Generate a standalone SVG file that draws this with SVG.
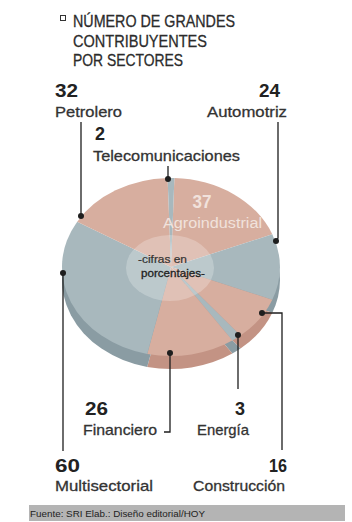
<svg xmlns="http://www.w3.org/2000/svg" width="352" height="522" viewBox="0 0 352 522">
<style>
text{font-family:"Liberation Sans","Open Sans",sans-serif;fill:#2b2b2b}
.t{font-size:17px;stroke:#2b2b2b;stroke-width:0.3}
.n{font-size:18px;font-weight:bold;fill:#222}
.l{font-size:15px;fill:#333;stroke:#333;stroke-width:0.3}
.pk{fill:#d7ae9f}
.bl{fill:#a8b8bd}
.dpk{fill:#c39384}
.dbl{fill:#8a9ca3}
.ln{stroke:#1e1e1e;stroke-width:1.3;fill:none}
.dot{fill:#1e1e1e}
</style>
<rect width="352" height="522" fill="#fff"/>
<g id="title">
<rect x="60.5" y="15.5" width="5" height="5" fill="none" stroke="#333" stroke-width="1"/>
<text class="t" x="73" y="27" textLength="162" lengthAdjust="spacingAndGlyphs">NÚMERO DE GRANDES</text>
<text class="t" x="73" y="47" textLength="134" lengthAdjust="spacingAndGlyphs">CONTRIBUYENTES</text>
<text class="t" x="73" y="66" textLength="110" lengthAdjust="spacingAndGlyphs">POR SECTORES</text>
</g>
<g id="pie">
<g id="rim" transform="translate(0,13)">
<path class="dbl" d="M171,267 L272.3,234.2 A109,89 0 0 1 272.3,299.8 Z"/>
<path class="dpk" d="M171,267 L272.3,299.8 A109,89 0 0 1 240.5,335.6 Z"/>
<path class="dbl" d="M171,267 L240.5,335.6 A109,89 0 0 1 232.3,340.6 Z"/>
<path class="dpk" d="M171,267 L232.3,340.6 A109,89 0 0 1 147.2,353.9 Z"/>
<path class="dbl" d="M171,267 L147.2,353.9 A109,89 0 0 1 77.2,221.7 Z"/>
</g>
<g id="agroindustrial">
<path class="pk" d="M171,267 L174.4,178 A109,89 0 0 1 272.3,234.2 Z"/>
</g>
<g id="automotriz">
<path class="bl" d="M171,267 L272.3,234.2 A109,89 0 0 1 272.3,299.8 Z"/>
</g>
<g id="construccion">
<path class="pk" d="M171,267 L272.3,299.8 A109,89 0 0 1 240.5,335.6 Z"/>
</g>
<g id="energia">
<path class="bl" d="M171,267 L240.5,335.6 A109,89 0 0 1 232.3,340.6 Z"/>
</g>
<g id="financiero">
<path class="pk" d="M171,267 L232.3,340.6 A109,89 0 0 1 147.2,353.9 Z"/>
</g>
<g id="multisectorial">
<path class="bl" d="M171,267 L147.2,353.9 A109,89 0 0 1 77.2,221.7 Z"/>
</g>
<g id="petrolero">
<path class="pk" d="M171,267 L77.2,221.7 A109,89 0 0 1 167.6,178 Z"/>
</g>
<g id="telecomunicaciones">
<path class="bl" d="M171,267 L167.6,178 A109,89 0 0 1 174.4,178 Z"/>
</g>
<ellipse cx="170" cy="268" rx="44" ry="33" fill="#fff" fill-opacity="0.24"/>
<text x="202" y="208" text-anchor="middle" style="font-size:18px;font-weight:bold;fill:#f1e2dc" textLength="19" lengthAdjust="spacingAndGlyphs">37</text>
<text x="163" y="228" style="font-size:14px;fill:#f1e2dc" textLength="99" lengthAdjust="spacingAndGlyphs">Agroindustrial</text>
<text x="138" y="263" style="font-size:11px;fill:#333;stroke:#333;stroke-width:0.2" textLength="49" lengthAdjust="spacingAndGlyphs">-cifras en</text>
<text x="141" y="277" style="font-size:11px;fill:#222;stroke:#222;stroke-width:0.3" textLength="64" lengthAdjust="spacingAndGlyphs">porcentajes-</text>
</g>
<g id="connectors">
<polyline class="ln" points="81,122 81,216"/>
<circle class="dot" cx="81" cy="216" r="3"/>
<polyline class="ln" points="168,166 168,179"/>
<circle class="dot" cx="168" cy="179" r="3"/>
<polyline class="ln" points="278,122 278,238 276,241"/>
<circle class="dot" cx="276" cy="241" r="3"/>
<polyline class="ln" points="63,273 63,451"/>
<circle class="dot" cx="63" cy="273" r="3"/>
<polyline class="ln" points="170,353 170,432 164,432"/>
<circle class="dot" cx="170" cy="353" r="3"/>
<polyline class="ln" points="238,335 238,389"/>
<circle class="dot" cx="238" cy="335" r="3"/>
<polyline class="ln" points="262,313 282,313 282,450"/>
<circle class="dot" cx="262" cy="313" r="3"/>
</g>
<g id="label-petrolero">
<text class="n" x="55" y="97" textLength="23" lengthAdjust="spacingAndGlyphs">32</text>
<text class="l" x="55" y="117" textLength="67" lengthAdjust="spacingAndGlyphs">Petrolero</text>
</g>
<g id="label-automotriz">
<text class="n" x="259" y="97" textLength="21" lengthAdjust="spacingAndGlyphs">24</text>
<text class="l" x="207" y="117" textLength="80" lengthAdjust="spacingAndGlyphs">Automotriz</text>
</g>
<g id="label-telecomunicaciones">
<text class="n" x="95" y="140" textLength="10" lengthAdjust="spacingAndGlyphs">2</text>
<text class="l" x="93" y="161" textLength="147" lengthAdjust="spacingAndGlyphs">Telecomunicaciones</text>
</g>
<g id="label-financiero">
<text class="n" x="85" y="415" textLength="23" lengthAdjust="spacingAndGlyphs">26</text>
<text class="l" x="83" y="435" textLength="74" lengthAdjust="spacingAndGlyphs">Financiero</text>
</g>
<g id="label-energia">
<text class="n" x="235" y="415" textLength="10" lengthAdjust="spacingAndGlyphs">3</text>
<text class="l" x="197" y="435" textLength="52" lengthAdjust="spacingAndGlyphs">Energía</text>
</g>
<g id="label-multisectorial">
<text class="n" x="55" y="472" textLength="25" lengthAdjust="spacingAndGlyphs">60</text>
<text class="l" x="55" y="491" textLength="98" lengthAdjust="spacingAndGlyphs">Multisectorial</text>
</g>
<g id="label-construccion">
<text class="n" x="269" y="472" textLength="18" lengthAdjust="spacingAndGlyphs">16</text>
<text class="l" x="193" y="491" textLength="92" lengthAdjust="spacingAndGlyphs">Construcción</text>
</g>
<g id="footer">
<rect x="29" y="505" width="316" height="16" fill="#b4b4b4"/>
<text x="30" y="516.5" style="font-size:9px;fill:#222" textLength="175" lengthAdjust="spacingAndGlyphs">Fuente: SRI  Elab.: Diseño editorial/HOY</text>
</g>
</svg>
